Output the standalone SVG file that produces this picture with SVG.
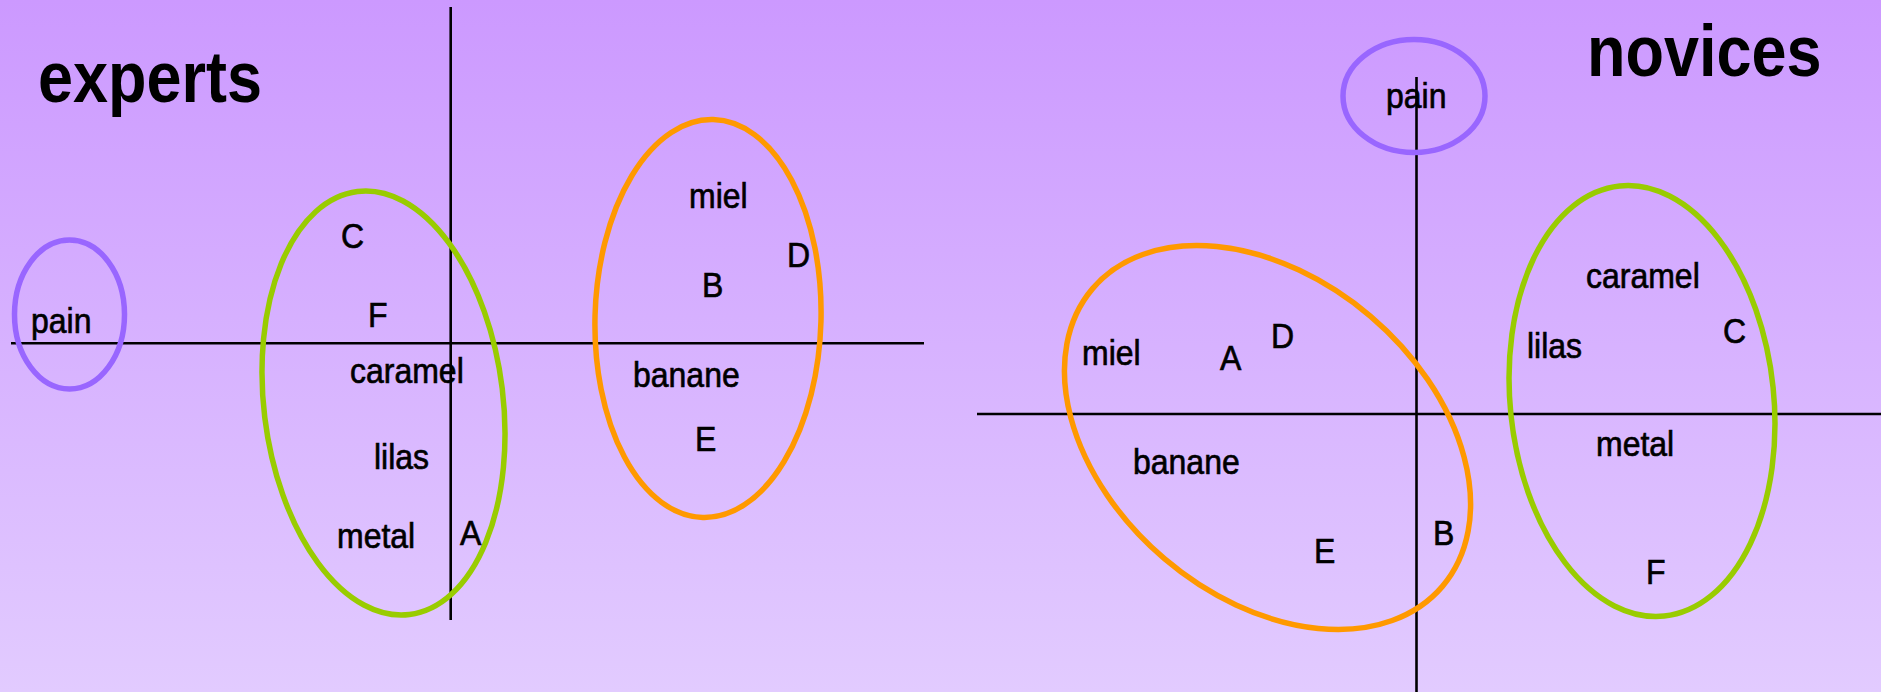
<svg xmlns="http://www.w3.org/2000/svg" width="1881" height="692" viewBox="0 0 1881 692">
<defs>
<linearGradient id="bg" x1="0" y1="0" x2="0" y2="1">
<stop offset="0" stop-color="#CC99FF"/>
<stop offset="1" stop-color="#E2CBFF"/>
</linearGradient>
<style>
.title{font-family:"Liberation Sans",Arial,sans-serif;font-weight:bold;font-size:63px;fill:#000}
.lbl{font-family:"Liberation Sans",Arial,sans-serif;font-size:32px;fill:#000;stroke:#000;stroke-width:0.6px}
.axis{stroke:#000;stroke-width:2.6;fill:none}
.purple{fill:none;stroke:#9966FF;stroke-width:5.5}
.green{fill:none;stroke:#99CC00;stroke-width:5.5}
.orange{fill:none;stroke:#FF9900;stroke-width:5.5}
</style>
</defs>
<rect width="1881" height="692" fill="url(#bg)"/>

<g id="connectors">
<line class="axis" x1="450.7" y1="7" x2="450.7" y2="620"/>
<line class="axis" x1="11" y1="343.3" x2="924" y2="343.3"/>
<line class="axis" x1="1416.5" y1="77" x2="1416.5" y2="692"/>
<line class="axis" x1="977" y1="414" x2="1881" y2="414"/>
</g>

<g id="groups-experts">
<ellipse id="e-pain" class="purple" cx="69.5" cy="314.5" rx="55" ry="74.5"/>
<ellipse id="e-green" class="green" cx="0" cy="0" rx="119.6" ry="213.1" transform="translate(383.5 403) rotate(-7)"/>
<ellipse id="e-orange" class="orange" cx="0" cy="0" rx="113" ry="199" transform="translate(708 318.5) rotate(1.5)"/>
</g>

<g id="groups-novices">
<ellipse id="n-pain" class="purple" cx="1414" cy="96" rx="71" ry="56.5"/>
<ellipse id="n-orange" class="orange" cx="0" cy="0" rx="229.7" ry="159.1" transform="translate(1267.5 437.5) rotate(40.4)"/>
<ellipse id="n-green" class="green" cx="0" cy="0" rx="131.8" ry="216.2" transform="translate(1642 401) rotate(-5.9)"/>
</g>

<g id="title-experts" transform="translate(38 102) scale(1 1.14)"><text class="title">experts</text></g>
<g id="title-novices" transform="translate(1587 76) scale(1 1.14)"><text class="title">novices</text></g>

<g id="experts-labels">
<g id="ex-pain" transform="translate(31 333) scale(1 1.1)"><text class="lbl">pain</text></g>
<g id="ex-C" transform="translate(341 248) scale(1 1.1)"><text class="lbl">C</text></g>
<g id="ex-F" transform="translate(368 327) scale(1 1.1)"><text class="lbl">F</text></g>
<g id="ex-caramel" transform="translate(350 383) scale(1 1.1)"><text class="lbl">caramel</text></g>
<g id="ex-lilas" transform="translate(374 469) scale(1 1.1)"><text class="lbl">lilas</text></g>
<g id="ex-metal" transform="translate(337 548) scale(1 1.1)"><text class="lbl">metal</text></g>
<g id="ex-A" transform="translate(460 545) scale(1 1.1)"><text class="lbl">A</text></g>
<g id="ex-miel" transform="translate(689 208) scale(1 1.1)"><text class="lbl">miel</text></g>
<g id="ex-D" transform="translate(787 267) scale(1 1.1)"><text class="lbl">D</text></g>
<g id="ex-B" transform="translate(702 297) scale(1 1.1)"><text class="lbl">B</text></g>
<g id="ex-banane" transform="translate(633 387) scale(1 1.1)"><text class="lbl">banane</text></g>
<g id="ex-E" transform="translate(695 451) scale(1 1.1)"><text class="lbl">E</text></g>
</g>

<g id="novices-labels">
<g id="nv-pain" transform="translate(1386 108) scale(1 1.1)"><text class="lbl">pain</text></g>
<g id="nv-miel" transform="translate(1082 365) scale(1 1.1)"><text class="lbl">miel</text></g>
<g id="nv-A" transform="translate(1220 370) scale(1 1.1)"><text class="lbl">A</text></g>
<g id="nv-D" transform="translate(1271 348) scale(1 1.1)"><text class="lbl">D</text></g>
<g id="nv-banane" transform="translate(1133 474) scale(1 1.1)"><text class="lbl">banane</text></g>
<g id="nv-E" transform="translate(1314 563) scale(1 1.1)"><text class="lbl">E</text></g>
<g id="nv-B" transform="translate(1433 545) scale(1 1.1)"><text class="lbl">B</text></g>
<g id="nv-caramel" transform="translate(1586 288) scale(1 1.1)"><text class="lbl">caramel</text></g>
<g id="nv-lilas" transform="translate(1527 358) scale(1 1.1)"><text class="lbl">lilas</text></g>
<g id="nv-C" transform="translate(1723 343) scale(1 1.1)"><text class="lbl">C</text></g>
<g id="nv-metal" transform="translate(1596 456) scale(1 1.1)"><text class="lbl">metal</text></g>
<g id="nv-F" transform="translate(1646 584) scale(1 1.1)"><text class="lbl">F</text></g>
</g>
</svg>
